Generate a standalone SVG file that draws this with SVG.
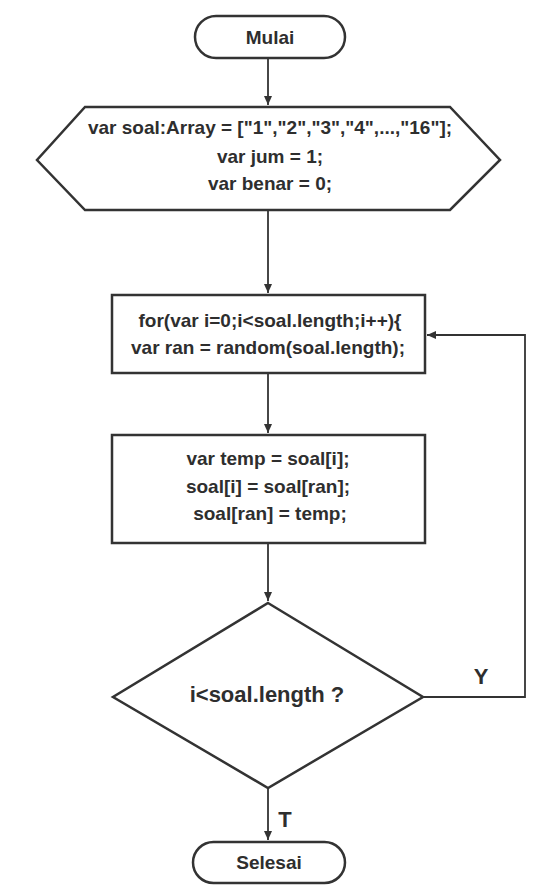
<svg xmlns="http://www.w3.org/2000/svg" width="557" height="890" viewBox="0 0 557 890">
  <style>
    .shape { fill: #ffffff; stroke: #333333; stroke-width: 2.5; }
    .edge { fill: none; stroke: #333333; stroke-width: 1.8; }
    .t { font-family: "Liberation Sans", Arial, sans-serif; font-weight: bold; fill: #2e2e2e; text-anchor: middle; font-size: 19px; }
    .big { font-size: 22px; }
  </style>
  <defs>
    <marker id="arrow" markerWidth="10" markerHeight="10" refX="9" refY="5" orient="auto" markerUnits="userSpaceOnUse">
      <path d="M0,1 L9,5 L0,9 Z" fill="#333333"/>
    </marker>
  </defs>
  <rect width="557" height="890" fill="#ffffff"/>

  <g id="connectors">
    <line class="edge" x1="268" y1="58" x2="268" y2="105" marker-end="url(#arrow)"/>
    <line class="edge" x1="268" y1="210" x2="268" y2="293" marker-end="url(#arrow)"/>
    <line class="edge" x1="268" y1="373" x2="268" y2="433" marker-end="url(#arrow)"/>
    <line class="edge" x1="268" y1="543" x2="268" y2="601" marker-end="url(#arrow)"/>
    <line class="edge" x1="268" y1="788" x2="268" y2="840" marker-end="url(#arrow)"/>
    <polyline class="edge" points="423,697 525,697 525,335 427,335" marker-end="url(#arrow)"/>
    <text class="t big" x="481" y="684">Y</text>
    <text class="t big" x="285" y="827">T</text>
  </g>

  <g id="start">
    <rect class="shape" x="195" y="16" width="150" height="42" rx="21"/>
    <text class="t" x="270" y="44">Mulai</text>
  </g>

  <g id="init">
    <polygon class="shape" points="85,107 450,107 500,160 450,210 85,210 37,160"/>
    <text class="t" x="270" y="134">var soal:Array = ["1","2","3","4",...,"16"];</text>
    <text class="t" x="270" y="163">var jum = 1;</text>
    <text class="t" x="270" y="190">var benar = 0;</text>
  </g>

  <g id="loop">
    <rect class="shape" x="112" y="295" width="313" height="78"/>
    <text class="t" x="270" y="327">for(var i=0;i&lt;soal.length;i++){</text>
    <text class="t" x="268" y="354">var ran = random(soal.length);</text>
  </g>

  <g id="swap">
    <rect class="shape" x="112" y="435" width="313" height="108"/>
    <text class="t" x="268" y="465">var temp = soal[i];</text>
    <text class="t" x="268" y="493">soal[i] = soal[ran];</text>
    <text class="t" x="270" y="520">soal[ran] = temp;</text>
  </g>

  <g id="check">
    <polygon class="shape" points="268,603 423,697 268,788 113,697"/>
    <text class="t big" x="267" y="702">i&lt;soal.length ?</text>
  </g>

  <g id="end">
    <rect class="shape" x="193" y="842" width="152" height="41" rx="20.5"/>
    <text class="t" x="269" y="869">Selesai</text>
  </g>
</svg>
